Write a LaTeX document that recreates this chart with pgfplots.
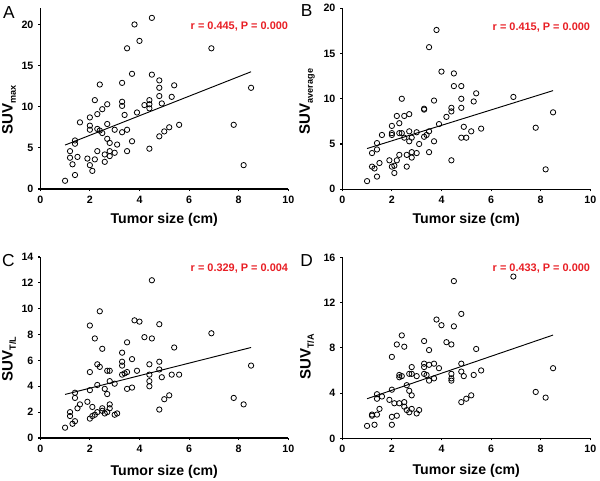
\documentclass[border=0pt]{standalone}
\usepackage{fontspec}
\setmainfont{Liberation Sans}
\usepackage{pgfplots}
\pgfplotsset{compat=1.18}
\definecolor{rtxt}{RGB}{232,30,36}
\pgfplotsset{
  panel/.style={
    scale only axis, width=186pt, height=135.75pt,
    xmin=0, xmax=10, ymin=0,
    axis x line*=bottom, axis y line*=left,
    axis line style={-, line width=0.9pt, black},
    xtick={0,2,4,6,8,10},
    tick align=outside, major tick length=1.6pt, minor tick num=0,
    tick style={line width=0.8pt, black},
    ticklabel style={font=\bfseries\fontsize{8}{9}\selectfont},
    /pgf/number format/assume math mode=true,
    xlabel style={font=\bfseries\fontsize{10.6}{12}\selectfont},
    ylabel style={font=\bfseries\fontsize{11.3}{12}\selectfont},
    xlabel={Tumor size (cm)},
    clip=false,
  },
  pts/.style={only marks, mark=o, mark size=2pt, mark options={line width=0.6pt, black}},
  fit/.style={no marks, black, line width=0.7pt},
}
\newcommand{\sub}[1]{\raisebox{-0.4ex}{\bfseries\fontsize{6.8}{6.8}\selectfont #1}}
\newcommand{\rtext}[2]{\node[anchor=east, text=rtxt, font=\bfseries\fontsize{8.2}{9}\selectfont, inner sep=0] at (rel axis cs:1,#1) {#2};}
\begin{document}
\begin{tikzpicture}
\useasboundingbox (0,0) rectangle (450pt,360.75pt);
% Panel A
\begin{axis}[panel, at={(30.2pt,219pt)}, anchor=south west, ymax=22, ytick={0,5,10,15,20},
  ylabel={SUV\sub{max}},
  xlabel style={at={(axis description cs:0.5,-0.171)}, anchor=center},
  ylabel style={at={(axis description cs:-0.126,0.436)}, anchor=center}]
\addplot[pts] coordinates {(1.0,1.0)(1.4,1.7)(1.3,3.0)(1.2,3.8)(1.5,3.9)(1.2,4.6)(1.4,5.5)(1.4,5.9)(1.6,8.1)(1.9,3.7)(2.0,2.9)(2.1,2.2)(2.2,3.6)(2.0,7.2)(2.0,7.7)(2.0,8.7)(2.2,10.8)(2.3,9.1)(2.3,7.3)(2.4,7.1)(2.4,12.7)(2.3,4.6)(2.5,6.8)(2.5,9.7)(2.7,10.3)(2.7,7.9)(2.7,6.1)(2.6,4.2)(2.6,3.3)(2.8,5.6)(2.8,4.6)(2.8,4.0)(3.0,4.4)(3.0,7.2)(3.1,5.4)(3.3,12.9)(3.3,10.6)(3.3,10.1)(3.3,6.9)(3.4,9.0)(3.5,17.1)(3.5,7.2)(3.5,4.6)(3.7,14.0)(3.7,5.8)(3.8,20.0)(3.9,9.3)(4.0,18.0)(4.2,10.2)(4.4,10.8)(4.4,10.3)(4.4,9.8)(4.4,4.9)(4.5,20.8)(4.5,13.9)(4.8,13.2)(4.8,12.3)(4.8,11.3)(4.9,10.4)(4.8,6.4)(5.0,7.0)(5.2,7.5)(5.3,11.2)(5.4,12.6)(5.6,7.8)(6.9,17.1)(7.8,7.8)(8.2,2.9)(8.5,12.3)};
\addplot[fit] coordinates {(1.0,5.34)(8.5,14.25)};
\rtext{0.895}{r = 0.445, P = 0.000}
\end{axis}
% Panel B
\begin{axis}[panel, at={(256.7pt,218.8pt)}, anchor=south west, ymax=20, ytick={0,5,10,15,20},
  ylabel={SUV\sub{average}},
  xlabel style={at={(axis description cs:0.5,-0.171)}, anchor=center},
  ylabel style={at={(axis description cs:-0.142,0.485)}, anchor=center}]
\addplot[pts] coordinates {(1.0,0.9)(1.2,2.5)(1.3,2.3)(1.4,1.4)(1.5,2.9)(1.2,4.0)(1.4,4.4)(1.4,5.1)(1.6,6.0)(1.9,3.2)(2.0,2.5)(2.1,1.8)(2.1,2.6)(2.2,3.2)(2.3,3.8)(2.0,6.0)(2.0,6.2)(2.0,7.0)(2.2,8.1)(2.3,7.3)(2.3,6.2)(2.4,10.0)(2.4,6.2)(2.5,8.1)(2.5,5.7)(2.6,2.5)(2.6,3.8)(2.7,8.3)(2.7,6.4)(2.7,5.3)(2.8,5.7)(2.8,4.1)(2.8,3.5)(3.0,4.0)(3.0,6.3)(3.1,5.0)(3.3,8.9)(3.3,8.8)(3.3,5.8)(3.4,6.0)(3.5,6.4)(3.5,15.7)(3.5,4.1)(3.7,9.8)(3.7,5.3)(3.8,17.6)(3.9,7.2)(4.0,13.0)(4.2,8.0)(4.4,9.0)(4.4,8.6)(4.4,3.2)(4.5,12.8)(4.5,11.4)(4.8,11.4)(4.8,10.0)(4.8,9.0)(4.8,5.7)(4.9,6.9)(5.0,5.7)(5.2,6.4)(5.3,9.7)(5.4,10.6)(5.6,6.7)(6.9,10.2)(7.8,6.8)(8.2,2.2)(8.5,8.5)};
\addplot[fit] coordinates {(1.0,4.5)(8.5,10.9)};
\rtext{0.895}{r = 0.415, P = 0.000}
\end{axis}
% Panel C
\begin{axis}[panel, at={(30.2pt,32.25pt)}, anchor=south west, ymax=14, ytick={0,2,...,14},
  ylabel={SUV\sub{T/L}},
  xlabel style={at={(axis description cs:0.5,-0.185)}, anchor=center},
  ylabel style={at={(axis description cs:-0.126,0.436)}, anchor=center}]
\addplot[pts] coordinates {(1.0,0.8)(1.3,1.1)(1.2,1.7)(1.2,2.0)(1.4,1.3)(1.5,2.3)(1.6,2.6)(1.4,3.1)(1.4,3.5)(1.9,2.8)(2.0,1.5)(2.1,2.4)(2.1,1.7)(2.2,1.8)(2.3,2.0)(2.0,3.7)(2.0,5.1)(2.0,8.7)(2.2,7.7)(2.3,4.1)(2.3,5.7)(2.4,5.5)(2.4,9.8)(2.5,6.9)(2.5,2.3)(2.5,2.1)(2.6,1.9)(2.6,3.8)(2.7,3.4)(2.7,5.2)(2.8,5.2)(2.8,4.4)(2.8,2.6)(2.8,2.3)(2.7,2.0)(3.0,4.2)(3.0,1.8)(3.1,1.9)(3.3,6.6)(3.3,5.9)(3.3,5.6)(3.3,4.9)(3.4,5.0)(3.5,7.4)(3.5,5.1)(3.5,3.8)(3.7,6.1)(3.7,3.9)(3.8,9.1)(3.9,5.2)(4.0,9.0)(4.2,7.8)(4.4,5.7)(4.4,4.9)(4.4,4.4)(4.4,4.0)(4.5,12.2)(4.5,7.7)(4.8,8.8)(4.8,5.9)(4.8,5.3)(4.8,2.2)(4.9,4.7)(5.0,3.0)(5.2,3.3)(5.3,4.9)(5.4,7.0)(5.6,4.9)(6.9,8.1)(7.8,3.1)(8.2,2.6)(8.5,5.6)};
\addplot[fit] coordinates {(1.0,3.37)(8.5,7.0)};
\rtext{0.934}{r = 0.329, P = 0.004}
\end{axis}
% Panel D
\begin{axis}[panel, at={(256.7pt,32pt)}, anchor=south west, ymax=16, ytick={0,4,...,16},
  ylabel={SUV\sub{T/A}},
  xlabel style={at={(axis description cs:0.5,-0.18)}, anchor=center},
  ylabel style={at={(axis description cs:-0.142,0.449)}, anchor=center}]
\addplot[pts] coordinates {(1.0,1.1)(1.3,1.2)(1.2,2.1)(1.2,2.0)(1.4,2.1)(1.5,2.6)(1.4,3.5)(1.4,3.9)(1.6,3.7)(1.9,3.4)(2.0,1.2)(2.0,1.9)(2.2,2.0)(2.1,3.1)(2.3,3.1)(2.0,4.3)(2.0,7.2)(2.2,8.3)(2.3,5.6)(2.3,5.4)(2.4,5.5)(2.4,9.1)(2.5,8.1)(2.5,3.2)(2.5,2.8)(2.6,2.5)(2.6,4.7)(2.7,4.2)(2.7,5.7)(2.7,2.3)(2.8,6.3)(2.8,3.8)(2.8,2.6)(2.8,5.7)(3.0,5.5)(3.0,2.2)(3.1,2.5)(3.3,8.6)(3.3,6.6)(3.3,6.3)(3.3,5.7)(3.4,5.6)(3.5,7.8)(3.5,6.5)(3.5,5.1)(3.7,6.6)(3.7,5.3)(3.8,10.5)(3.9,6.2)(4.0,10.0)(4.2,8.5)(4.4,8.3)(4.4,5.7)(4.4,5.3)(4.4,5.1)(4.5,13.9)(4.5,9.9)(4.8,11.0)(4.8,6.6)(4.8,5.9)(4.8,3.2)(4.9,5.5)(5.0,3.5)(5.2,3.8)(5.3,5.6)(5.4,7.9)(5.6,6.0)(6.9,14.3)(7.8,4.1)(8.2,3.6)(8.5,6.2)};
\addplot[fit] coordinates {(1.0,3.5)(8.5,9.13)};
\rtext{0.937}{r = 0.433, P = 0.000}
\end{axis}
% Panel letters
\node[font=\fontsize{13}{13}\selectfont, inner sep=0] at (6.6pt,351.6pt) {A};
\node[font=\fontsize{13}{13}\selectfont, inner sep=0] at (229.9pt,352.5pt) {B};
\node[font=\fontsize{13}{13}\selectfont, inner sep=0] at (6.2pt,165.4pt) {C};
\node[font=\fontsize{13}{13}\selectfont, inner sep=0] at (229.9pt,165.4pt) {D};
\end{tikzpicture}
\end{document}
